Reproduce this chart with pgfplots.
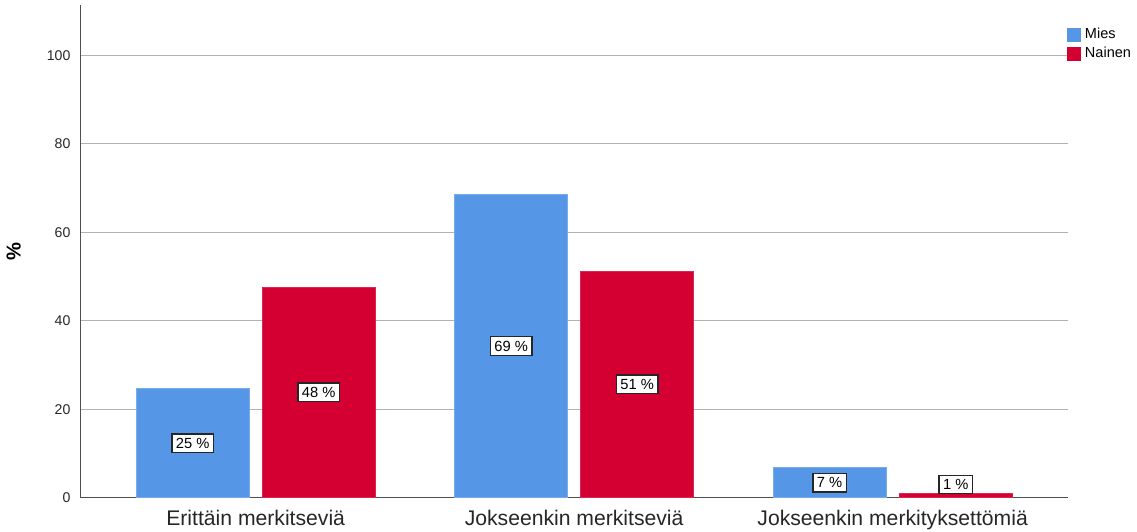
\documentclass[border=0pt]{standalone}
\usepackage{pgfplots}
\pgfplotsset{compat=1.18}
\usepackage{fontspec}
\setmainfont{Liberation Sans}
\definecolor{miesblue}{RGB}{85,150,230}
\definecolor{nainenred}{RGB}{212,0,50}
\definecolor{axisgray}{RGB}{80,80,80}
\begin{document}
\begin{tikzpicture}
\begin{axis}[
    width=490pt, height=244.5pt, scale only axis,
    xmin=-0.55, xmax=2.55,
    ymin=0, ymax=111.4,
    xtick={0,1,2},
    xticklabels={Erittäin merkitseviä, Jokseenkin merkitseviä, Jokseenkin merkityksettömiä},
    ytick={0,20,40,60,80,100},
    major tick length=0pt,
    ymajorgrids,
    grid style={gray!60, line width=0.5pt},
    axis x line*=bottom, axis y line*=left,
    axis line style={axisgray, line width=0.6pt},
    x axis line style={-}, y axis line style={-},
    tick label style={font=\fontsize{7}{8}\selectfont, text=black!85},
    yticklabel style={xshift=-1.5pt},
    xticklabel style={font=\fontsize{10.5}{12}\selectfont, inner sep=1pt, yshift=-5pt},
    /pgf/number format/assume math mode=true,
    ylabel={\textbf{\%}},
    ylabel style={font=\fontsize{10}{11}\selectfont, yshift=6pt},
    legend style={at={(0.997,0.966)}, anchor=north west, draw=none, fill=none,
        font=\fontsize{7.2}{8}\selectfont, row sep=-1.5pt, inner sep=1pt,
        /tikz/every odd column/.style={inner xsep=0.5pt}},
    legend cell align=left,
    ybar, bar width=0.354,
    visualization depends on={rawy \as \rawy},
    nodes near coords,
    point meta=explicit symbolic,
    every node near coord/.append style={
        anchor=center, fill=white, draw=black!85, line width=0.7pt,
        inner sep=2pt, font=\fontsize{7.3}{8}\selectfont,
        shift={(axis direction cs:0,{-min(\rawy/2,\rawy-3)})}},
    extra description/.code={\path (rel axis cs:0,1) ++(0,2.5pt);},
]
\addplot[fill=miesblue, draw=miesblue!80!white, bar shift=-0.198,
    legend image code/.code={\fill[miesblue] (0pt,-3.2pt) rectangle (6.4pt,3.2pt);}]
    coordinates {(0,24.6) [25 \%] (1,68.6) [69 \%] (2,6.8) [7 \%]};
\addplot[fill=nainenred, draw=nainenred!85!white, bar shift=0.198,
    legend image code/.code={\fill[nainenred] (0pt,-3.2pt) rectangle (6.4pt,3.2pt);}]
    coordinates {(0,47.6) [48 \%] (1,51.25) [51 \%] (2,0.9) [1 \%]};
\legend{Mies, Nainen}
\end{axis}
\end{tikzpicture}
\end{document}
